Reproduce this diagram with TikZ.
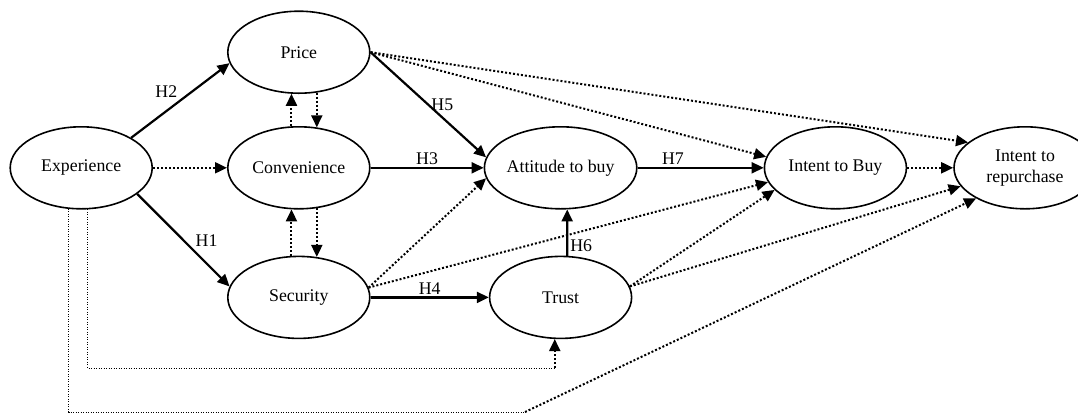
\documentclass[tikz,border=0pt]{standalone}
\usepackage{fontspec}
\setmainfont{Liberation Serif}
\usetikzlibrary{matrix,shapes.geometric,arrows.meta}

\tikzset{
  construct/.style={ellipse, draw, line width=0.8pt, minimum width=71pt, minimum height=41pt, inner sep=0pt, anchor=center},
  hyp/.style={line width=1.1pt, -{Triangle[length=6pt,width=5.5pt]}},
  link/.style={line width=1pt, dash pattern=on 1pt off 1pt, -{Triangle[length=6pt,width=5.5pt]}},
  lane/.style={line width=0.5pt, dash pattern=on 0.5pt off 0.75pt},
  hlabel/.style={inner sep=1pt}
}

\begin{document}
\begin{tikzpicture}[x=0.5pt, y=-0.5pt, font=\fontsize{8.9}{10.5}\selectfont]
\useasboundingbox (0,0) rectangle (1078,414);
\matrix (m) [matrix of nodes, nodes={construct}, inner sep=0pt, row sep=16pt, column sep=23pt, anchor=north west] at (9,10) {
             &[14pt] Price          &[33.5pt]                  &[40pt]                  &    \\
  Experience &[14pt] Convenience    &[33.5pt] Attitude to buy  &[40pt] Intent to Buy    & {\begin{tabular}{@{}c@{}}Intent to\\repurchase\end{tabular}} \\[7pt]
             &[14pt] Security       &[33.5pt] Trust            &[40pt]                  &    \\
};
\coordinate (lanea) at (0,368);
\coordinate (laneb) at (525,412);
\coordinate (tcorner) at (m-3-3.262 |- lanea);
\draw[hyp] (m-2-1.31) -- node[hlabel, midway, above left] {H2} (m-1-2.189);
\draw[link] (m-2-1.east) -- (m-2-2.west);
\draw[hyp] (m-2-1.335) -- node[hlabel, pos=0.6, above right] {H1} (m-3-2.171);
\draw[link] (m-2-2.100) -- (m-1-2.260);
\draw[link] (m-1-2.294) -- (m-2-2.66);
\draw[link] (m-3-2.100) -- (m-2-2.260);
\draw[link] (m-2-2.294) -- (m-3-2.66);
\draw[hyp] (m-1-2.east) -- node[hlabel, midway, right] {H5} (m-2-3.172);
\draw[hyp] (m-2-2.east) -- node[hlabel, midway, above] {H3} (m-2-3.west);
\draw[hyp] (m-3-2.east) -- node[hlabel, midway, above] {H4} (m-3-3.west);
\draw[hyp] (m-3-3.81) -- node[hlabel, pos=0.22, right] {H6} (m-2-3.279);
\draw[hyp] (m-2-3.east) -- node[hlabel, pos=0.28, above] {H7} (m-2-4.west);
\draw[link] (m-3-2.8) -- (m-2-3.188);
\draw[link] (m-3-2.8) -- (m-2-4.192);
\draw[link] (m-1-2.east) -- (m-2-4.171);
\draw[link] (m-1-2.east) -- (m-2-5.156);
\draw[link] (m-3-3.9) -- (m-2-4.200);
\draw[link] (m-3-3.9) -- (m-2-5.196);
\draw[link] (m-2-4.east) -- (m-2-5.west);
\draw[lane] (m-2-1.278) |- (tcorner);
\draw[link] (tcorner) -- (m-3-3.262);
\draw[lane] (m-2-1.253) |- (laneb);
\draw[link] (laneb) -- (m-2-5.212);
\end{tikzpicture}
\end{document}
